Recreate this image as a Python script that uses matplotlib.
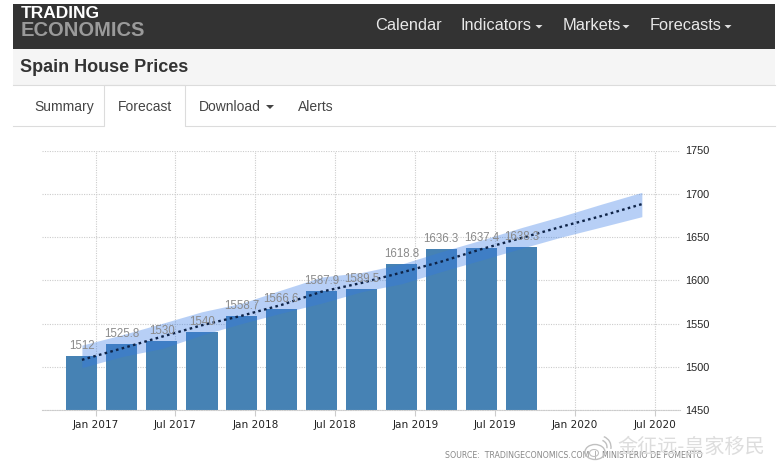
import matplotlib
matplotlib.use('Agg')
import numpy as np
import matplotlib.dates as mdates
from datetime import date
from matplotlib import pyplot as plt
from matplotlib.patches import Rectangle, Polygon, Arc, Ellipse

bar_dates = ['2016-12-01', '2017-03-01', '2017-06-01', '2017-09-01', '2017-12-01', '2018-03-01',
             '2018-06-01', '2018-09-01', '2018-12-01', '2019-03-01', '2019-06-01', '2019-09-01']
bar_values = [1512, 1525.8, 1530, 1540, 1558.7, 1566.6, 1587.9, 1589.5, 1618.8, 1636.3, 1637.4, 1638.3]
bar_labels = ['1512', '1525.8', '1530', '1540', '1558.7', '1566.6', '1587.9', '1589.5', '1618.8', '1636.3', '1637.4', '1638.3']

forecast_dates = bar_dates + ['2019-12-01', '2020-03-01', '2020-06-01']
forecast = [1508, 1521, 1534.7, 1548, 1559, 1571.4, 1586.8, 1597, 1609, 1621.5, 1636, 1649, 1662, 1674.3, 1688]
upper = [1525, 1536.7, 1550, 1563.6, 1573.5, 1588.7, 1603.7, 1609, 1618.8, 1633, 1646.5, 1661, 1674, 1688, 1701.6]
lower = [1499, 1511.6, 1521, 1536.7, 1550, 1562, 1573.5, 1586.8, 1596, 1610, 1623.4, 1637, 1650, 1661.6, 1673.5]

x_ticks = ['2017-01-01', '2017-07-01', '2018-01-01', '2018-07-01', '2019-01-01', '2019-07-01', '2020-01-01', '2020-07-01']
x_tick_labels = ['Jan 2017', 'Jul 2017', 'Jan 2018', 'Jul 2018', 'Jan 2019', 'Jul 2019', 'Jan 2020', 'Jul 2020']
y_ticks = [1450, 1500, 1550, 1600, 1650, 1700, 1750]


def to_num(days):
    return mdates.date2num([date.fromisoformat(d) for d in days])


W, H = 782, 466
fig = plt.figure(figsize=(W / 100, H / 100), dpi=100, facecolor='white')

# page furniture in pixel coordinates
bg = fig.add_axes([0, 0, 1, 1])
bg.set_xlim(0, W)
bg.set_ylim(H, 0)
bg.axis('off')
bg.add_patch(Rectangle((13, 4), 762, 45, fc='#333333', ec='none'))
bg.add_patch(Rectangle((13, 49), 762, 36, fc='#f5f5f5', ec='none'))
line = '#dcdcdc'
bg.plot([13, 775], [85, 85], color=line, lw=0.8)
bg.plot([13, 103.5, 103.5, 184.5, 184.5, 775], [126, 126, 85, 85, 126, 126], color=line, lw=0.8)

sans = 'Liberation Sans'
bg.text(21, 14, 'TRADING', color='white', fontsize=12.5, fontweight='bold', family=sans, va='center')
bg.text(21, 30, 'ECONOMICS', color='#9a9a9a', fontsize=14.5, fontweight='bold', family=sans, va='center')
for label, x in zip(['Calendar', 'Indicators', 'Markets', 'Forecasts'], [375, 461, 563, 650]):
    bg.text(x, 25, label, color='#e8e8e8', fontsize=11.8, family=sans, va='center')
for x in [539, 626, 728]:
    bg.add_patch(Polygon([[x - 3.5, 25], [x + 3.5, 25], [x, 28.5]], fc='#dddddd', ec='none'))
bg.text(20, 67, 'Spain House Prices', color='#333333', fontsize=13, fontweight='bold', family=sans, va='center')
for label, x in zip(['Summary', 'Forecast', 'Download', 'Alerts'], [34, 118, 199, 298]):
    bg.text(x, 107, label, color='#444444', fontsize=10, family=sans, va='center')
bg.add_patch(Polygon([[266, 105], [274, 105], [270, 109]], fc='#444444', ec='none'))

# chart
left, right, top, bottom = 42, 680, 150.5, 410
ax = fig.add_axes([left / W, 1 - bottom / H, (right - left) / W, (bottom - top) / H])
ax.patch.set_alpha(0)
jan17 = mdates.date2num(date(2017, 1, 1))
px_per_day = (655 - 95.5) / (mdates.date2num(date(2020, 7, 1)) - jan17)
ax.set_xlim(jan17 - (95.5 - left) / px_per_day, jan17 + (right - 95.5) / px_per_day)
ax.set_ylim(1450, 1750)

ax.set_axisbelow(True)
ax.grid(True, color='#cccccc', linestyle=(0, (1, 1.2)), linewidth=0.8)
for side in ['top', 'left', 'right']:
    ax.spines[side].set_visible(False)
ax.spines['bottom'].set_color('#cccccc')
ax.spines['bottom'].set_linestyle((0, (1, 1.2)))
ax.spines['bottom'].set_linewidth(0.8)

bar_x = to_num(bar_dates)
fc_x = to_num(forecast_dates)
ax.bar(bar_x, bar_values, width=71, bottom=0, color='#4682b4', zorder=2)
ax.fill_between(fc_x, lower, upper, color='#3278e6', alpha=0.35, linewidth=0, zorder=3)
ax.plot(fc_x, forecast, color='#0e2347', linestyle=(0, (1.1, 1.4)), linewidth=1.7, zorder=4)
for x, v, label in zip(bar_x, bar_values, bar_labels):
    ax.annotate(label, (x, v), xytext=(0, 3), textcoords='offset points', ha='center', va='bottom',
                color='#8a8a8a', fontsize=8.3, family='Liberation Sans', zorder=5)

ax.set_xticks(to_num(x_ticks))
ax.set_xticklabels(x_tick_labels, fontsize=7.6, color='#222222', family='DejaVu Sans')
ax.set_yticks(y_ticks)
ax.set_yticklabels([str(v) for v in y_ticks], fontsize=7.8, color='#222222', family='Liberation Sans')
ax.tick_params(axis='x', length=4, color='#cccccc', pad=3)
ax.yaxis.tick_right()
ax.tick_params(axis='y', length=0, pad=3.5)

# source and watermark
bg.text(445, 456, 'SOURCE:  TRADINGECONOMICS.COM  |  MINISTERIO DE FOMENTO', color='#888888', fontsize=5.7,
        family='DejaVu Sans', va='center', zorder=5)
bg.text(617, 447, '金征远-皇家移民', color='#dddddd', fontsize=14.5, family=['Noto Sans CJK SC', 'DejaVu Sans'],
        va='center', zorder=6)
bg.add_patch(Ellipse((595, 452), 20, 15, fc='none', ec='#c0c0c0', lw=1, zorder=6))
bg.add_patch(Ellipse((594, 453), 9, 7, fc='none', ec='#c0c0c0', lw=0.8, zorder=6))
bg.add_patch(Arc((600, 447), 14, 14, theta1=-70, theta2=10, ec='#c0c0c0', lw=1, zorder=6))
bg.add_patch(Arc((600, 447), 22, 22, theta1=-70, theta2=10, ec='#c0c0c0', lw=1, zorder=6))

fig.savefig('out.png', dpi=100)
